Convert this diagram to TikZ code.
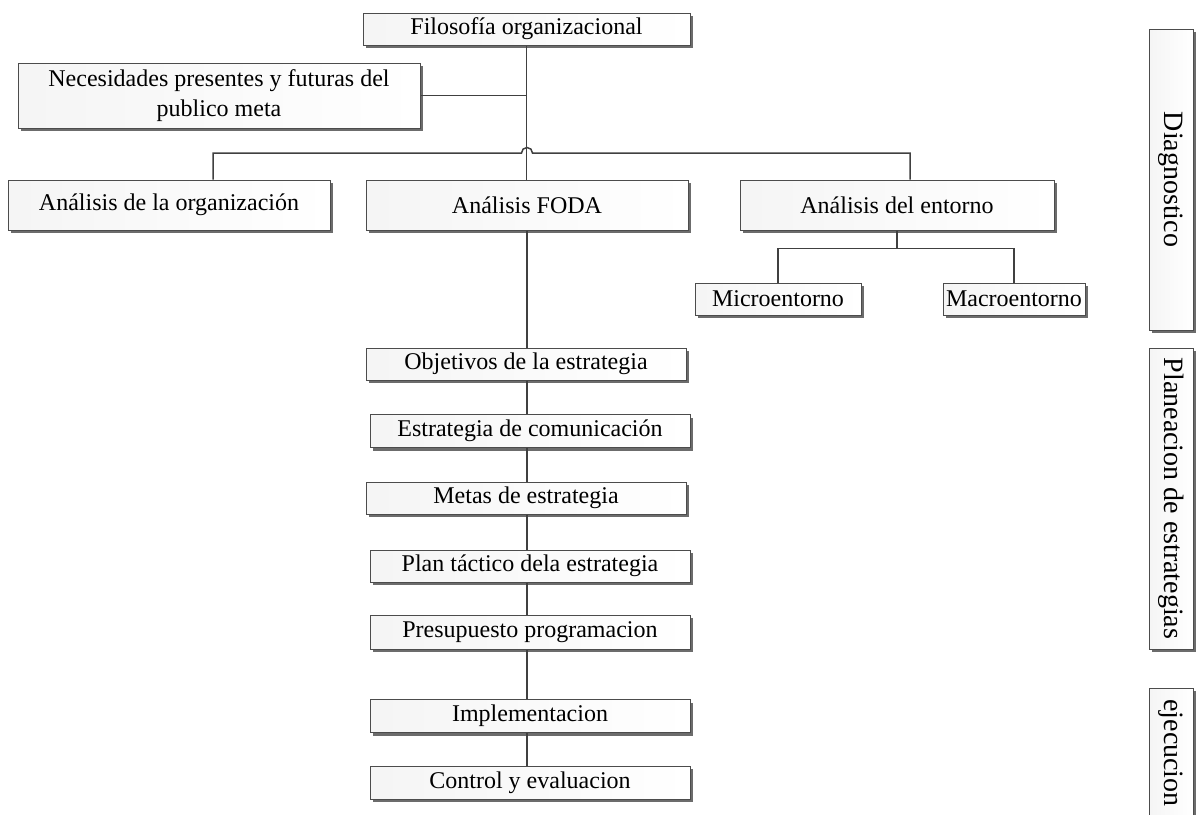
\documentclass[tikz,border=0pt]{standalone}
\usepackage{fontspec}
\setmainfont{Liberation Serif}
\usetikzlibrary{shadows,positioning,calc}

\begin{document}
\begin{tikzpicture}[x=0.5pt,y=-0.5pt,
  box/.style={draw=gray!60!black,line width=0.5pt,left color=gray!8,right color=white,
    drop shadow={shadow xshift=1.5pt,shadow yshift=-1.5pt,fill=gray!85!black,opacity=1},
    inner sep=0pt,align=center,font=\fontsize{12}{15}\selectfont},
  sidebox/.style={box,minimum width=22pt,font=\fontsize{14}{16}\selectfont},
  link/.style={line width=0.75pt,draw=black!75}]

  \useasboundingbox (0,0) rectangle (1196,815);
  \clip (0,0) rectangle (1196,815);

  % top of the tree
  \node[box,minimum width=163.5pt,minimum height=16pt] (filo) at (526.5,29) {Filosofía organizacional};
  \node[box,minimum width=201pt,minimum height=32.5pt] (nece) at (219,95.5) {Necesidades presentes y futuras del\\publico meta};

  % analysis row
  \node[box,minimum width=161pt,minimum height=25pt] (org)  at (169,205) {Análisis de la organización};
  \node[box,minimum width=161pt,minimum height=25pt] (foda) at (527,205) {Análisis FODA};
  \node[box,minimum width=157pt,minimum height=25pt] (ento) at (897,205) {Análisis del entorno};
  \node[box,minimum width=83pt,minimum height=16pt]  (micro) at (778,299)  {Microentorno};
  \node[box,minimum width=71pt,minimum height=16pt]  (macro) at (1014,299) {Macroentorno};

  % strategy chain
  \node[box,minimum width=160pt,minimum height=16pt]   (obj)   at (526,364)   {Objetivos de la estrategia};
  \node[box,minimum width=160pt,minimum height=16.5pt] (estr)  at (530,431)   {Estrategia de comunicación};
  \node[box,minimum width=160pt,minimum height=16pt]   (metas) at (526,498)   {Metas de estrategia};
  \node[box,minimum width=160pt,minimum height=16pt]   (plan)  at (530,566)   {Plan táctico dela estrategia};
  \node[box,minimum width=160pt,minimum height=17pt]   (presu) at (530,632)   {Presupuesto programacion};
  \node[box,minimum width=160pt,minimum height=16.5pt] (impl)  at (530,716)   {Implementacion};
  \node[box,minimum width=160pt,minimum height=16.5pt] (ctrl)  at (530,782.5) {Control y evaluacion};

  % phases on the right
  \node[sidebox,minimum height=150.5pt] (diag)  at (1171,179.5) {\rotatebox{-90}{Diagnostico}};
  \node[sidebox,minimum height=150.5pt] (plane) at (1171,498.5) {\rotatebox{-90}{Planeacion de estrategias}};
  \node[sidebox,minimum height=65pt]    (ejec)  at (1171,753)   {\rotatebox{-90}{ejecucion}};

  % spine from the top box down to FODA
  \draw[link] (filo.south) -- (filo.south |- foda.north);
  \draw[link] (nece.east) -- (nece.east -| filo.south);

  % bus over the analysis row, hopping the spine
  \coordinate (busL) at (521.5,153);
  \coordinate (busR) at (532.5,153);
  \draw[link] ([xshift=22pt]org.north) |- (busL) arc[start angle=180,end angle=360,radius=5.5] -- (busR) -| ([xshift=6.5pt]ento.north);

  % entorno split
  \draw[link] (ento.south) -- ([yshift=-9pt]ento.south);
  \draw[link] (micro.north) |- ([yshift=-9pt]ento.south) -| (macro.north);

  % FODA down to the end
  \foreach \a/\b in {foda/obj,obj/estr,estr/metas,metas/plan,plan/presu,presu/impl,impl/ctrl}
    \draw[link] (\a.south -| foda.south) -- (\b.north -| foda.south);
\end{tikzpicture}
\end{document}
